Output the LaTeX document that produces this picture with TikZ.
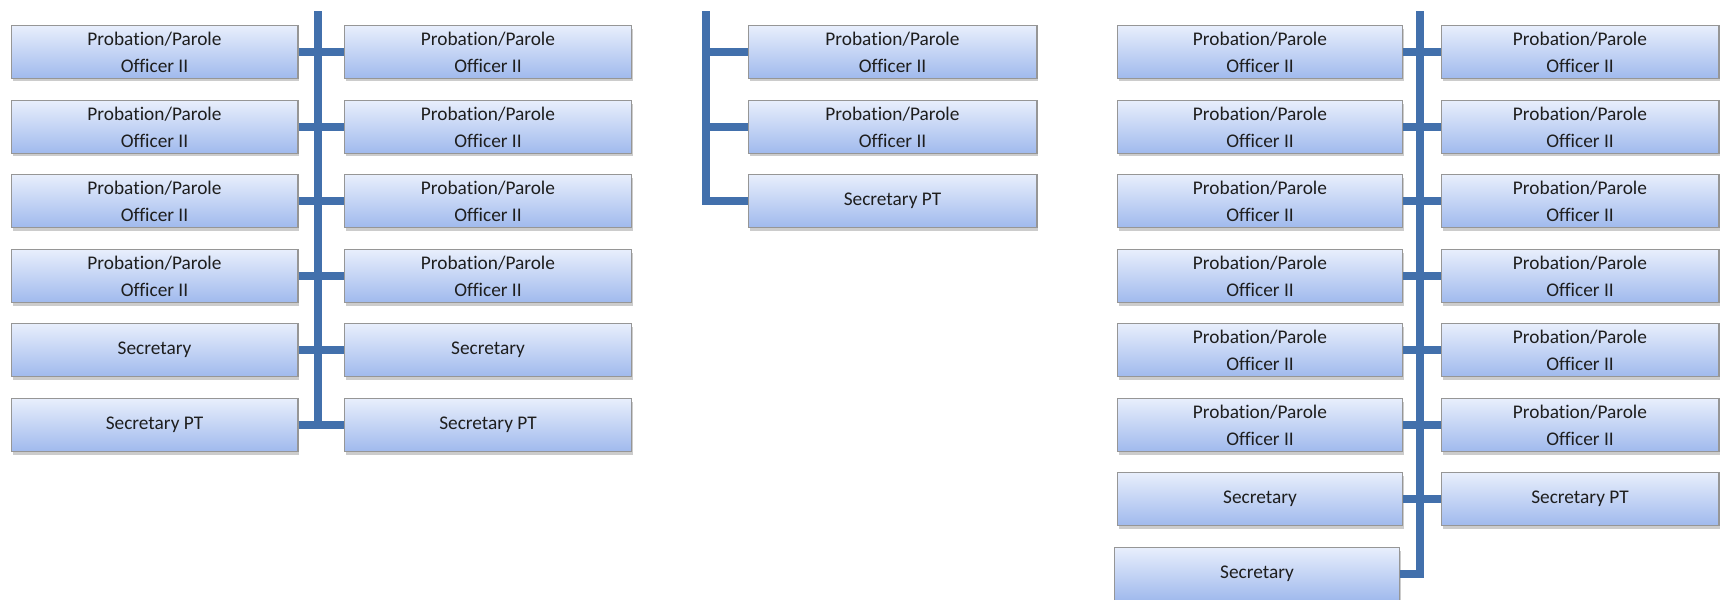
\documentclass[tikz,border=0pt]{standalone}
\usepackage{fontspec}
\setmainfont[Ligatures={NoCommon}]{Carlito}
\usetikzlibrary{shadows}
\definecolor{linkblue}{RGB}{66,112,172}
\definecolor{boxtop}{RGB}{232,238,252}
\definecolor{boxbot}{RGB}{160,186,237}
\definecolor{boxline}{RGB}{150,150,150}
\definecolor{txtgray}{RGB}{30,30,30}
\newcommand{\ppo}{Probation/Parole\\Officer II}

\begin{document}
\begin{tikzpicture}[x=0.02cm, y=-0.02cm,
    post/.style={rectangle, draw=boxline, line width=0.6pt, top color=boxtop, bottom color=boxbot, minimum width=#1, minimum height=1.06cm, inner sep=0pt, align=center, text=txtgray, font=\fontsize{11}{15.5}\selectfont, drop shadow={shadow xshift=0.03cm, shadow yshift=-0.06cm, opacity=0.4}},
    post/.default=5.74cm,
    link/.style={draw=linkblue, line width=0.16cm}
]
    \useasboundingbox (0,0) rectangle (1724,599);

    % Groupe gauche
    \coordinate (ltop) at (318,11);
    \node[post] (la1) at (154.5,52) {\ppo};
    \node[post] (la2) at (154.5,127) {\ppo};
    \node[post] (la3) at (154.5,201) {\ppo};
    \node[post] (la4) at (154.5,276) {\ppo};
    \node[post] (la5) at (154.5,350) {Secretary};
    \node[post] (la6) at (154.5,425) {Secretary PT};
    \node[post] (lb1) at (488,52) {\ppo};
    \node[post] (lb2) at (488,127) {\ppo};
    \node[post] (lb3) at (488,201) {\ppo};
    \node[post] (lb4) at (488,276) {\ppo};
    \node[post] (lb5) at (488,350) {Secretary};
    \node[post] (lb6) at (488,425) {Secretary PT};

    % Groupe central
    \coordinate (mtop) at (706,11);
    \node[post=5.78cm] (m1) at (892.5,52) {\ppo};
    \node[post=5.78cm] (m2) at (892.5,127) {\ppo};
    \node[post=5.78cm] (m3) at (892.5,201) {Secretary PT};

    % Groupe droit
    \coordinate (rtop) at (1420,11);
    \node[post=5.7cm] (ra1) at (1260,52) {\ppo};
    \node[post=5.7cm] (ra2) at (1260,127) {\ppo};
    \node[post=5.7cm] (ra3) at (1260,201) {\ppo};
    \node[post=5.7cm] (ra4) at (1260,276) {\ppo};
    \node[post=5.7cm] (ra5) at (1260,350) {\ppo};
    \node[post=5.7cm] (ra6) at (1260,425) {\ppo};
    \node[post=5.7cm] (ra7) at (1260,499) {Secretary};
    \node[post=5.7cm] (ra8) at (1257,574) {Secretary};
    \node[post=5.56cm] (rb1) at (1580,52) {\ppo};
    \node[post=5.56cm] (rb2) at (1580,127) {\ppo};
    \node[post=5.56cm] (rb3) at (1580,201) {\ppo};
    \node[post=5.56cm] (rb4) at (1580,276) {\ppo};
    \node[post=5.56cm] (rb5) at (1580,350) {\ppo};
    \node[post=5.56cm] (rb6) at (1580,425) {\ppo};
    \node[post=5.56cm] (rb7) at (1580,499) {Secretary PT};

    % Liaisons
    \draw[link] (ltop) -- (ltop |- la6.east);
    \draw[link] (la1.east) -- (lb1.west);
    \draw[link] (la2.east) -- (lb2.west);
    \draw[link] (la3.east) -- (lb3.west);
    \draw[link] (la4.east) -- (lb4.west);
    \draw[link] (la5.east) -- (lb5.west);
    \draw[link] (la6.east) -- (lb6.west);

    \draw[link] (mtop) |- (m3.west);
    \draw[link] (mtop |- m1.west) -- (m1.west);
    \draw[link] (mtop |- m2.west) -- (m2.west);

    \draw[link] (rtop) |- (ra8.east);
    \draw[link] (ra1.east) -- (rb1.west);
    \draw[link] (ra2.east) -- (rb2.west);
    \draw[link] (ra3.east) -- (rb3.west);
    \draw[link] (ra4.east) -- (rb4.west);
    \draw[link] (ra5.east) -- (rb5.west);
    \draw[link] (ra6.east) -- (rb6.west);
    \draw[link] (ra7.east) -- (rb7.west);

\end{tikzpicture}
\end{document}
